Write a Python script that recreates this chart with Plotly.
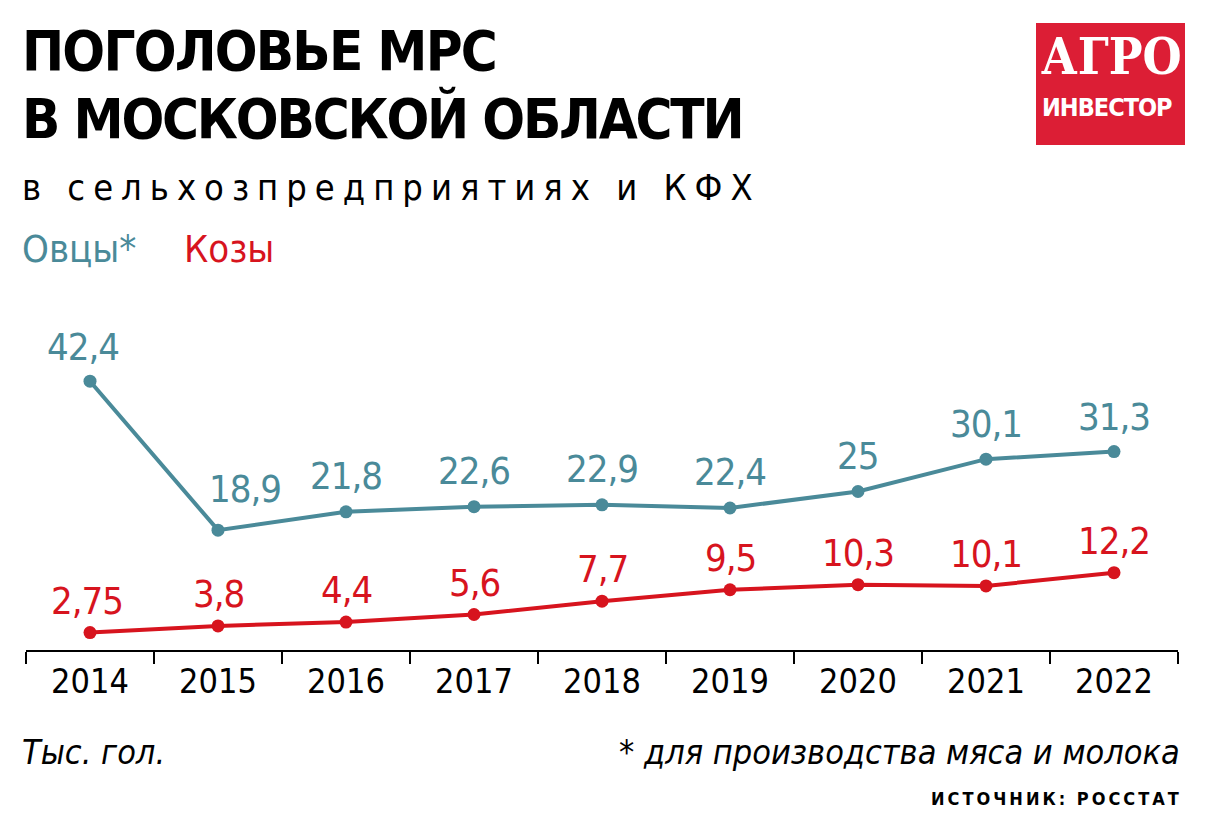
import plotly.graph_objects as go

years = ["2014", "2015", "2016", "2017", "2018", "2019", "2020", "2021", "2022"]
sheep = [42.4, 18.9, 21.8, 22.6, 22.9, 22.4, 25, 30.1, 31.3]
goats = [2.75, 3.8, 4.4, 5.6, 7.7, 9.5, 10.3, 10.1, 12.2]

TEAL = "#4a8a99"
RED = "#d7141e"
LOGO_RED = "#dc1e35"
NARROW = "Liberation Sans Narrow, Arial Narrow, DejaVu Sans Condensed, sans-serif"

# page body has an 8px margin: the figure starts at window (8, 8)
OFF = 8
W, H = 1207 - OFF, 835 - OFF
# plot area in window pixels: x 26..1178, y 300..650
L, R, T, B = 26 - OFF, 1207 - 1178, 300 - OFF, 835 - 650
PW, PH = W - L - R, H - T - B


def px(x):
    return (x - OFF - L) / PW


def py(y):
    return (H - B - (y - OFF)) / PH


def fmt(v):
    return f"{v:g}".replace(".", ",")


fig = go.Figure()
fig.add_trace(go.Scatter(x=years, y=sheep, mode="lines+markers", name="Овцы*",
                         line=dict(color=TEAL, width=4),
                         marker=dict(color=TEAL, size=13), cliponaxis=False))
fig.add_trace(go.Scatter(x=years, y=goats, mode="lines+markers", name="Козы",
                         line=dict(color=RED, width=4),
                         marker=dict(color=RED, size=13), cliponaxis=False))

annotations = []
sheep_dx = [-7, 27, 0, 0, 0, 0, 0, 0, 0]
sheep_dy = [34, 41, 36, 36, 36, 36, 36, 35, 35]
goats_dx = [-3, 0, 0, 0, 0, 0, 0, 0, 0]
LABEL_STYLE = '<span style="letter-spacing:-1px">%s</span>'
for i, v in enumerate(sheep):
    annotations.append(dict(x=i, y=v, xref="x", yref="y", text=LABEL_STYLE % fmt(v), showarrow=False,
                            xshift=sheep_dx[i], yshift=sheep_dy[i], yanchor="middle",
                            font=dict(family=NARROW, size=38, color=TEAL)))
for i, v in enumerate(goats):
    annotations.append(dict(x=i, y=v, xref="x", yref="y", text=LABEL_STYLE % fmt(v), showarrow=False,
                            xshift=goats_dx[i], yshift=32, yanchor="middle",
                            font=dict(family=NARROW, size=38, color=RED)))


def txt(text, x, y, size, color="black", xanchor="left", family=NARROW):
    annotations.append(dict(xref="paper", yref="paper", x=px(x), y=py(y), text=text,
                            showarrow=False, xanchor=xanchor, yanchor="middle",
                            font=dict(family=family, size=size, color=color)))


txt('<b><span style="letter-spacing:-1.8px">ПОГОЛОВЬЕ МРС</span></b>', 20, 50, 56)
txt('<b><span style="letter-spacing:-2.2px">В МОСКОВСКОЙ ОБЛАСТИ</span></b>', 20, 118, 56)
txt('<span style="letter-spacing:8px">в сельхозпредприятиях и КФХ</span>', 20, 188, 36)
txt("Овцы*", 20, 249, 38, TEAL)
txt("Козы", 182, 249, 38, RED)
txt("<i>Тыс. гол.</i>", 20, 752, 34)
txt("<i>* для производства мяса и молока</i>", 1182, 752, 34, xanchor="right")
txt('<b><span style="letter-spacing:3px">ИСТОЧНИК: РОССТАТ</span></b>', 1184, 798, 18, xanchor="right")

# logo
shapes = [dict(type="rect", xref="paper", yref="paper", x0=px(1036), x1=px(1185),
               y0=py(145), y1=py(23), fillcolor=LOGO_RED, line=dict(width=0), layer="below")]
txt("<b>АГРО</b>", 1111, 56, 50, "white", xanchor="center",
    family="DejaVu Serif Condensed, DejaVu Serif, serif")
txt('<b><span style="letter-spacing:-1px">ИНВЕСТОР</span></b>', 1107, 107, 25, "white",
    xanchor="center")

fig.update_layout(
    width=W, height=H,
    margin=dict(l=L, r=R, t=T, b=B),
    paper_bgcolor="white", plot_bgcolor="white",
    showlegend=False,
    annotations=annotations,
    shapes=shapes,
    xaxis=dict(type="category", categoryorder="array", categoryarray=years,
               range=[-0.5, 8.5], tickson="boundaries", ticks="outside", ticklen=12,
               tickwidth=2, tickcolor="black", showline=True, linewidth=2, linecolor="black",
               showgrid=False, zeroline=False, fixedrange=True,
               tickfont=dict(family=NARROW, size=34, color="black")),
    yaxis=dict(range=[0, PH / 6.34], visible=False, showgrid=False, zeroline=False,
               fixedrange=True),
)

fig.write_html("out.html")
